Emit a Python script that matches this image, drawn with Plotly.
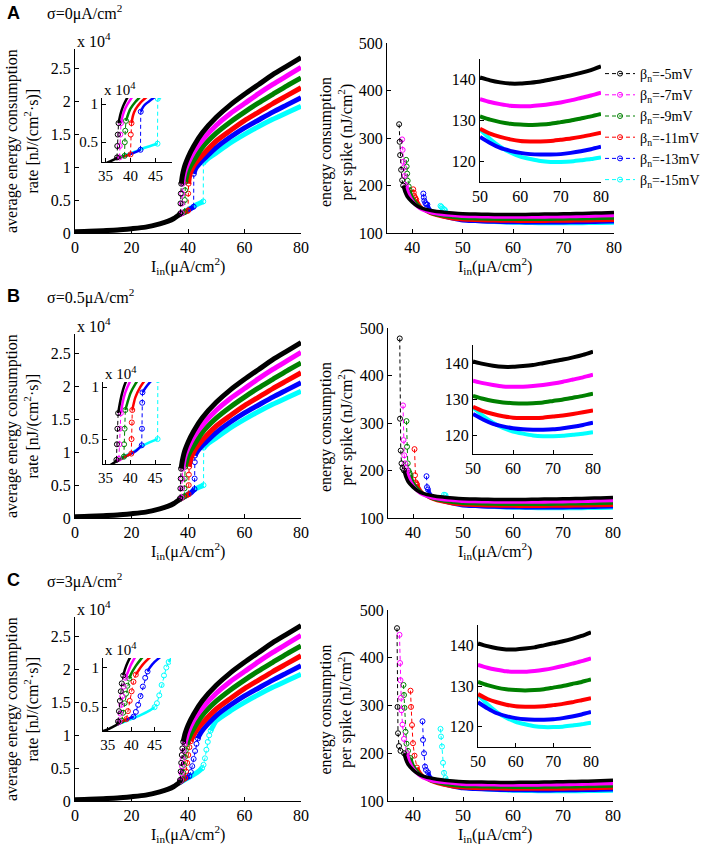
import plotly.graph_objects as go

# ---------------- data ----------------
SERIES = ["K", "M", "G", "R", "B", "C"]
COLORS = {"K": "#000000", "M": "#FF00FF", "G": "#008000",
          "R": "#FF0000", "B": "#0000FF", "C": "#00FFFF"}
LEGEND_LABELS = {"K": "β<sub>n</sub>=-5mV", "M": "β<sub>n</sub>=-7mV",
                 "G": "β<sub>n</sub>=-9mV", "R": "β<sub>n</sub>=-11mV",
                 "B": "β<sub>n</sub>=-13mV", "C": "β<sub>n</sub>=-15mV"}
SIGMA_LABELS = ["σ=0μA/cm<sup>2</sup>", "σ=0.5μA/cm<sup>2</sup>", "σ=3μA/cm<sup>2</sup>"]
PANEL_LETTERS = ["A", "B", "C"]

# left panels: energy consumption rate (units of 1e4)
BASE_X = [0, 5, 10, 15, 20, 25, 30, 33, 35, 36, 37]
BASE_Y = [0.02, 0.025, 0.035, 0.045, 0.065, 0.09, 0.14, 0.18, 0.22, 0.25, 0.28]

LEFT_TAIL_X = [50, 55, 60, 65, 70, 75, 80]
LEFT_TAIL_Y = {
    "K": [1.76, 1.95, 2.11, 2.26, 2.41, 2.54, 2.67],
    "M": [1.64, 1.82, 1.97, 2.12, 2.26, 2.39, 2.52],
    "G": [1.52, 1.69, 1.84, 1.98, 2.11, 2.24, 2.36],
    "R": [1.40, 1.56, 1.71, 1.84, 1.97, 2.09, 2.21],
    "B": [1.30, 1.46, 1.60, 1.72, 1.84, 1.95, 2.06],
    "C": [1.22, 1.37, 1.50, 1.62, 1.73, 1.83, 1.93],
}

# row A (sigma = 0)
A_LO_X = {"K": [37.0, 37.3], "M": [37.0, 37.8], "G": [37.0, 38.8],
          "R": [37.0, 38.5, 40.0], "B": [37.0, 39.0, 41.0, 42.0],
          "C": [37.0, 39.0, 41.0, 43.0, 45.4]}
A_LO_Y = {"K": [0.28, 0.30], "M": [0.28, 0.30], "G": [0.28, 0.32],
          "R": [0.28, 0.31, 0.34], "B": [0.28, 0.32, 0.37, 0.40],
          "C": [0.28, 0.33, 0.38, 0.43, 0.48]}
A_JUMP_X = {"K": [37.3, 37.35, 37.45, 37.6], "M": [37.8, 37.85, 37.95, 38.1],
            "G": [38.8, 38.85, 38.95, 39.1], "R": [40.0, 40.05, 40.2],
            "B": [42.0, 42.05], "C": [45.4, 45.45]}
A_JUMP_Y = {"K": [0.30, 0.45, 0.60, 0.75], "M": [0.30, 0.45, 0.60, 0.75],
            "G": [0.32, 0.50, 0.65, 0.78], "R": [0.34, 0.60, 0.75],
            "B": [0.40, 0.90], "C": [0.48, 1.07]}
A_UP_X = {"K": [37.6, 38.0, 38.5, 39.0, 40.0, 42.0, 45.0],
          "M": [38.1, 38.5, 39.0, 40.0, 42.0, 45.0],
          "G": [39.1, 39.6, 40.0, 41.0, 42.0, 45.0],
          "R": [40.2, 40.5, 41.0, 42.0, 43.0, 45.0],
          "B": [42.05, 42.5, 43.0, 44.0, 45.0, 47.0],
          "C": [45.45, 46.0, 47.0, 48.0]}
A_UP_Y = {"K": [0.75, 0.87, 0.97, 1.04, 1.15, 1.32, 1.52],
          "M": [0.75, 0.86, 0.95, 1.06, 1.23, 1.41],
          "G": [0.78, 0.88, 0.94, 1.03, 1.10, 1.30],
          "R": [0.75, 0.85, 0.93, 1.02, 1.08, 1.18],
          "B": [0.90, 0.96, 1.00, 1.05, 1.10, 1.18],
          "C": [1.07, 1.09, 1.13, 1.16]}

# row B (sigma = 0.5)
B_LO_X = {"K": [37.0, 37.2], "M": [37.0, 37.7], "G": [37.0, 38.7],
          "R": [37.0, 38.5, 40.2], "B": [37.0, 39.0, 41.0, 42.3],
          "C": [37.0, 39.0, 41.0, 43.0, 45.5]}
B_LO_Y = {"K": [0.28, 0.30], "M": [0.28, 0.31], "G": [0.28, 0.33],
          "R": [0.28, 0.32, 0.36], "B": [0.28, 0.33, 0.38, 0.44],
          "C": [0.28, 0.34, 0.39, 0.45, 0.50]}
B_JUMP_X = {"K": [37.2, 37.3, 37.4, 37.55], "M": [37.7, 37.8, 37.9, 38.1],
            "G": [38.7, 38.75, 38.85, 39.0], "R": [40.2, 40.25, 40.3, 40.4],
            "B": [42.3, 42.35, 42.4, 42.45], "C": [45.5, 45.55]}
B_JUMP_Y = {"K": [0.30, 0.45, 0.60, 0.75], "M": [0.31, 0.45, 0.60, 0.75],
            "G": [0.33, 0.45, 0.60, 0.78], "R": [0.36, 0.50, 0.66, 0.78],
            "B": [0.44, 0.60, 0.85, 0.95], "C": [0.50, 1.07]}
B_UP_X = {"K": [37.55, 38.0, 38.5, 39.0, 40.0, 42.0, 45.0],
          "M": [38.1, 38.5, 39.0, 40.0, 42.0, 45.0],
          "G": [39.0, 39.6, 40.0, 41.0, 42.0, 45.0],
          "R": [40.4, 41.0, 42.0, 43.0, 45.0],
          "B": [42.45, 43.0, 44.0, 45.0, 47.0],
          "C": [45.55, 46.0, 47.0, 48.0]}
B_UP_Y = {"K": [0.75, 0.87, 0.97, 1.04, 1.15, 1.32, 1.52],
          "M": [0.75, 0.86, 0.95, 1.06, 1.23, 1.41],
          "G": [0.78, 0.88, 0.94, 1.03, 1.10, 1.30],
          "R": [0.78, 0.90, 1.00, 1.07, 1.18],
          "B": [0.95, 0.99, 1.05, 1.10, 1.18],
          "C": [1.07, 1.09, 1.13, 1.16]}

# row C (sigma = 3): steep but continuous rise
C_LO_X = {"K": [37.0, 37.2], "M": [37.0, 37.5], "G": [37.0, 38.0],
          "R": [37.0, 38.5, 39.0], "B": [37.0, 39.0, 40.5],
          "C": [37.0, 40.0, 42.0, 44.0, 45.0]}
C_LO_Y = {"K": [0.28, 0.32], "M": [0.28, 0.32], "G": [0.28, 0.33],
          "R": [0.28, 0.33, 0.35], "B": [0.28, 0.34, 0.38],
          "C": [0.28, 0.35, 0.40, 0.46, 0.50]}
C_JUMP_X = {"K": [37.2, 37.4, 37.6, 37.8, 38.0, 38.3],
            "M": [37.5, 37.7, 37.9, 38.1, 38.4, 38.8],
            "G": [38.0, 38.3, 38.6, 38.9, 39.2, 39.6],
            "R": [39.0, 39.3, 39.7, 40.1, 40.5, 41.0],
            "B": [40.5, 41.0, 41.5, 42.0, 42.5, 43.0, 43.5],
            "C": [45.0, 45.5, 46.0, 46.5, 47.0, 47.5, 48.0]}
C_JUMP_Y = {"K": [0.32, 0.45, 0.58, 0.70, 0.80, 0.90],
            "M": [0.32, 0.42, 0.53, 0.64, 0.76, 0.87],
            "G": [0.33, 0.43, 0.55, 0.67, 0.77, 0.86],
            "R": [0.35, 0.45, 0.58, 0.70, 0.82, 0.91],
            "B": [0.38, 0.44, 0.53, 0.64, 0.76, 0.87, 0.95],
            "C": [0.50, 0.55, 0.65, 0.78, 0.90, 1.00, 1.07]}
C_UP_X = {"K": [38.3, 38.7, 39.0, 40.0, 42.0, 45.0],
          "M": [38.8, 39.3, 40.0, 42.0, 45.0],
          "G": [39.6, 40.0, 41.0, 42.0, 45.0],
          "R": [41.0, 42.0, 43.0, 45.0],
          "B": [43.5, 44.0, 45.0, 47.0],
          "C": [48.0, 49.0]}
C_UP_Y = {"K": [0.90, 0.98, 1.03, 1.15, 1.32, 1.52],
          "M": [0.87, 0.94, 1.04, 1.23, 1.41],
          "G": [0.86, 0.92, 1.02, 1.10, 1.30],
          "R": [0.91, 1.00, 1.07, 1.18],
          "B": [0.95, 1.00, 1.07, 1.17],
          "C": [1.07, 1.15]}

# right panels: energy consumption per spike (nJ/cm^2)
RIGHT_TAIL_X = [50, 52.5, 55, 57.5, 60, 62.5, 65, 67.5, 70, 72.5, 75, 77.5, 80]
RIGHT_TAIL_Y = {
    "K": [140.5, 139.8, 139.3, 139.0, 139.0, 139.2, 139.5, 140.0, 140.5, 141.0, 141.6, 142.3, 143.2],
    "M": [135.2, 134.5, 134.0, 133.6, 133.5, 133.5, 133.7, 134.0, 134.4, 134.9, 135.5, 136.1, 136.8],
    "G": [131.0, 130.2, 129.6, 129.2, 129.0, 128.9, 129.0, 129.2, 129.6, 130.0, 130.5, 131.0, 131.6],
    "R": [128.0, 126.8, 126.0, 125.4, 125.0, 124.9, 124.9, 125.0, 125.3, 125.6, 126.0, 126.5, 127.0],
    "B": [126.0, 124.5, 123.3, 122.6, 122.1, 121.8, 121.7, 121.7, 121.8, 122.1, 122.5, 123.0, 123.6],
    "C": [127.8, 125.5, 123.6, 122.2, 121.2, 120.6, 120.1, 119.9, 119.9, 120.0, 120.3, 120.6, 121.0],
}
DECAY_X = {"K": [38.2, 38.6, 39.0, 40.0, 41.0, 42.0, 44.0, 46.0, 48.0],
           "M": [38.8, 39.2, 40.0, 41.0, 42.0, 44.0, 46.0, 48.0],
           "G": [39.5, 40.0, 41.0, 42.0, 44.0, 46.0, 48.0],
           "R": [40.8, 41.5, 42.0, 43.0, 44.0, 46.0, 48.0],
           "B": [43.0, 43.5, 44.0, 45.0, 46.0, 48.0],
           "C": [46.5, 47.0, 47.5, 48.0, 49.0]}
DECAY_Y = {"K": [200, 186, 177, 165, 157, 152, 147, 144, 142],
           "M": [200, 185, 168, 156, 149, 142, 139, 137],
           "G": [190, 175, 160, 151, 141, 136, 133],
           "R": [170, 158, 152, 145, 140, 134, 130],
           "B": [160, 150, 145, 139, 135, 130],
           "C": [148, 141, 137, 134, 130]}

A_SPIKE_X = {"K": [37.4, 37.5, 37.6, 37.8, 38.0], "M": [38.0, 38.1, 38.2, 38.35, 38.5],
             "G": [38.8, 38.9, 39.0, 39.1, 39.3], "R": [40.2, 40.3, 40.4, 40.6],
             "B": [42.2, 42.3, 42.4, 42.6, 42.8], "C": [45.6, 45.8, 46.0, 46.3]}
A_SPIKE_Y = {"K": [329, 292, 264, 233, 211], "M": [297, 275, 250, 238, 220],
             "G": [254, 240, 225, 210, 198], "R": [192, 185, 178, 174],
             "B": [183, 175, 168, 163, 160], "C": [157, 155, 152, 150]}
B_SPIKE_X = {"K": [37.35, 37.4, 37.55, 37.7, 37.9], "M": [38.0, 38.1, 38.25, 38.4, 38.6],
             "G": [38.7, 38.8, 38.95, 39.1, 39.3], "R": [40.3, 40.4, 40.55, 40.7],
             "B": [42.7, 42.8], "C": [46.2]}
B_SPIKE_Y = {"K": [478, 309, 242, 215, 205], "M": [337, 264, 232, 215, 205],
             "G": [304, 250, 215, 200, 195], "R": [245, 190, 175, 172],
             "B": [188, 165], "C": [149]}
C_SPIKE_X = {"K": [36.8, 36.9, 37.0, 37.2, 37.5],
             "M": [37.3, 37.4, 37.5, 37.6, 37.7, 37.9, 38.2],
             "G": [38.1, 38.2, 38.3, 38.5, 38.7, 39.0],
             "R": [39.5, 39.6, 39.8, 40.0, 40.3],
             "B": [41.9, 42.0, 42.2, 42.4, 42.6],
             "C": [45.5, 45.6, 45.8, 46.0, 46.2]}
C_SPIKE_Y = {"K": [462, 297, 242, 215, 205],
             "M": [448, 389, 353, 316, 290, 260, 230],
             "G": [343, 322, 295, 245, 220, 205],
             "R": [331, 297, 259, 221, 195],
             "B": [267, 228, 200, 172, 165],
             "C": [251, 235, 214, 180, 159]}

ROWS = [
    dict(lo_x=A_LO_X, lo_y=A_LO_Y, jx=A_JUMP_X, jy=A_JUMP_Y, ux=A_UP_X, uy=A_UP_Y, sx=A_SPIKE_X, sy=A_SPIKE_Y),
    dict(lo_x=B_LO_X, lo_y=B_LO_Y, jx=B_JUMP_X, jy=B_JUMP_Y, ux=B_UP_X, uy=B_UP_Y, sx=B_SPIKE_X, sy=B_SPIKE_Y),
    dict(lo_x=C_LO_X, lo_y=C_LO_Y, jx=C_JUMP_X, jy=C_JUMP_Y, ux=C_UP_X, uy=C_UP_Y, sx=C_SPIKE_X, sy=C_SPIKE_Y),
]

# ---------------- layout geometry (pixels) ----------------
W, H = 708, 845
SERIF = "Liberation Serif, Times New Roman, serif"
SANS = "Liberation Sans, Arial, sans-serif"

# (left, right, top, bottom)
LEFT_MAIN_BOX = [(75, 301, 49, 233), (75, 301, 334, 518), (75, 301, 617, 801)]
LEFT_INSET_BOX = [(102, 172, 98, 162), (103, 171, 382, 464), (103, 171, 658, 731)]
RIGHT_MAIN_BOX = [(387, 614, 43, 233), (388, 613, 328, 518), (388, 613, 610, 801)]
RIGHT_INSET_BOX = [(480, 601, 59, 182), (473, 593, 345, 454), (478, 591, 625, 747)]
LEFT_INSET_XR = [[34.3, 48.3], [34.5, 48.2], [34.0, 48.5]]
LEFT_INSET_YR = [[0.24, 1.08], [0.26, 1.05], [0.20, 1.12]]
LETTER_Y = [13, 296, 580]


def xdom(l, r):
    return [l / W, r / W]


def ydom(t, b):
    return [1 - b / H, 1 - t / H]


def axis_pair(idx, box, xr, yr, xt, yt, ytext, size):
    l, r, t, b = box
    common = dict(showline=True, linecolor="black", linewidth=1, ticks="inside",
                  ticklen=4, tickwidth=1, tickcolor="black", showgrid=False,
                  zeroline=False, tickmode="array", fixedrange=True, automargin=False,
                  tickfont=dict(family=SERIF, size=size, color="black"))
    xa = dict(domain=xdom(l, r), range=xr, anchor=f"y{idx}" if idx > 1 else "y",
              tickvals=xt, ticktext=[str(v) for v in xt], **common)
    ya = dict(domain=ydom(t, b), range=yr, anchor=f"x{idx}" if idx > 1 else "x",
              tickvals=yt, ticktext=ytext, **common)
    return xa, ya


fig = go.Figure()
layout_axes = {}


def ref(idx):
    return ("x", "y") if idx == 1 else (f"x{idx}", f"y{idx}")


def add_line(idx, x, y, color, width, dash=None, markers=False, **kw):
    xr, yr = ref(idx)
    fig.add_trace(go.Scatter(
        x=x, y=y, xaxis=xr, yaxis=yr,
        mode="lines+markers" if markers else "lines",
        line=dict(color=color, width=width, dash=dash, shape="spline", smoothing=0.6) if dash is None
        else dict(color=color, width=width, dash=dash),
        marker=dict(symbol="circle-open", size=5, color=color, line=dict(width=1, color=color)),
        showlegend=kw.pop("showlegend", False), hoverinfo="skip", **kw))


DRAW_ORDER = ["C", "B", "R", "G", "M", "K"]

for r in range(3):
    d = ROWS[r]
    i_lm, i_li, i_rm, i_ri = 4 * r + 1, 4 * r + 2, 4 * r + 3, 4 * r + 4
    for idx, box, xr, yr, xt, yt, ytx, sz in [
        (i_lm, LEFT_MAIN_BOX[r], [0, 80], [0, 2.8], [0, 20, 40, 60, 80],
         [0, 0.5, 1, 1.5, 2, 2.5], ["0", "0.5", "1", "1.5", "2", "2.5"], 16),
        (i_li, LEFT_INSET_BOX[r], LEFT_INSET_XR[r], LEFT_INSET_YR[r], [35, 40, 45],
         [0.5, 1], ["0.5", "1"], 15),
        (i_rm, RIGHT_MAIN_BOX[r], [35, 80], [100, 500], [40, 50, 60, 70, 80],
         [100, 200, 300, 400, 500], ["100", "200", "300", "400", "500"], 16),
        (i_ri, RIGHT_INSET_BOX[r], [50, 80], [115, 145], [50, 60, 70, 80],
         [120, 130, 140], ["120", "130", "140"], 16),
    ]:
        xa, ya = axis_pair(idx, box, xr, yr, xt, yt, ytx, sz)
        layout_axes["xaxis" if idx == 1 else f"xaxis{idx}"] = xa
        layout_axes["yaxis" if idx == 1 else f"yaxis{idx}"] = ya

    for s in DRAW_ORDER:
        col = COLORS[s]
        for idx, wthick in [(i_lm, 5), (i_li, 2.5)]:
            add_line(idx, d["lo_x"][s], d["lo_y"][s], col, wthick)
            add_line(idx, d["jx"][s], d["jy"][s], col, 1, dash="4px,3px", markers=True)
            add_line(idx, d["ux"][s] + LEFT_TAIL_X, d["uy"][s] + LEFT_TAIL_Y[s], col, wthick)
        # right main
        add_line(i_rm, DECAY_X[s] + RIGHT_TAIL_X, DECAY_Y[s] + RIGHT_TAIL_Y[s], col, 3.5)
        add_line(i_rm, d["sx"][s] + DECAY_X[s][:1], d["sy"][s] + DECAY_Y[s][:1], col, 1,
                 dash="4px,3px", markers=True,
                 showlegend=(r == 0), name=LEGEND_LABELS[s],
                 legendrank=SERIES.index(s) + 1)
        # right inset
        add_line(i_ri, RIGHT_TAIL_X, RIGHT_TAIL_Y[s], col, 4)
    # shared sub-threshold curve (black on top)
    add_line(i_lm, BASE_X, BASE_Y, "#000000", 5)
    add_line(i_li, BASE_X, BASE_Y, "#000000", 2.5)

# ---------------- annotations ----------------
ann = []


def text(px, py, s, size, family=SERIF, xanchor="center", yanchor="middle", angle=0, bold=False):
    ann.append(dict(x=px / W, y=1 - py / H, xref="paper", yref="paper", text=f"<b>{s}</b>" if bold else s,
                    showarrow=False, xanchor=xanchor, yanchor=yanchor, textangle=angle,
                    font=dict(family=family, size=size, color="black")))


for r in range(3):
    lm, li, rm = LEFT_MAIN_BOX[r], LEFT_INSET_BOX[r], RIGHT_MAIN_BOX[r]
    text(5, LETTER_Y[r], PANEL_LETTERS[r], 18, family=SANS, xanchor="left", bold=True)
    text(45, LETTER_Y[r], SIGMA_LABELS[r], 16, xanchor="left")
    text(lm[0], lm[2] - 9, "x 10<sup>4</sup>", 16, xanchor="left")
    text(li[0], li[2] - 9, "x 10<sup>4</sup>", 15, xanchor="left")
    ymid_l = (lm[2] + lm[3]) / 2
    text(22, ymid_l, "average energy consumption<br>rate [nJ/(cm<sup>2</sup>·s)]", 16, angle=-90)
    ymid_r = (rm[2] + rm[3]) / 2 + 4
    text(336, ymid_r, "energy consumption<br>per spike (nJ/cm<sup>2</sup>)", 16, angle=-90)
    text((lm[0] + lm[1]) / 2, lm[3] + 33, "I<sub>in</sub>(μA/cm<sup>2</sup>)", 16)
    text((rm[0] + rm[1]) / 2 - 5, rm[3] + 33, "I<sub>in</sub>(μA/cm<sup>2</sup>)", 16)

fig.update_layout(
    width=W, height=H, autosize=False,
    margin=dict(l=0, r=0, t=0, b=0, pad=0, autoexpand=False),
    paper_bgcolor="white", plot_bgcolor="rgba(0,0,0,0)",
    annotations=ann,
    legend=dict(x=600 / W, y=1 - 58 / H, xanchor="left", yanchor="top",
                font=dict(family=SERIF, size=14, color="black"),
                itemwidth=30, tracegroupgap=0, bgcolor="rgba(0,0,0,0)"),
    **layout_axes,
)

fig.write_html("out.html", config={"displayModeBar": False},
               post_script="document.body.style.margin='0px';")
